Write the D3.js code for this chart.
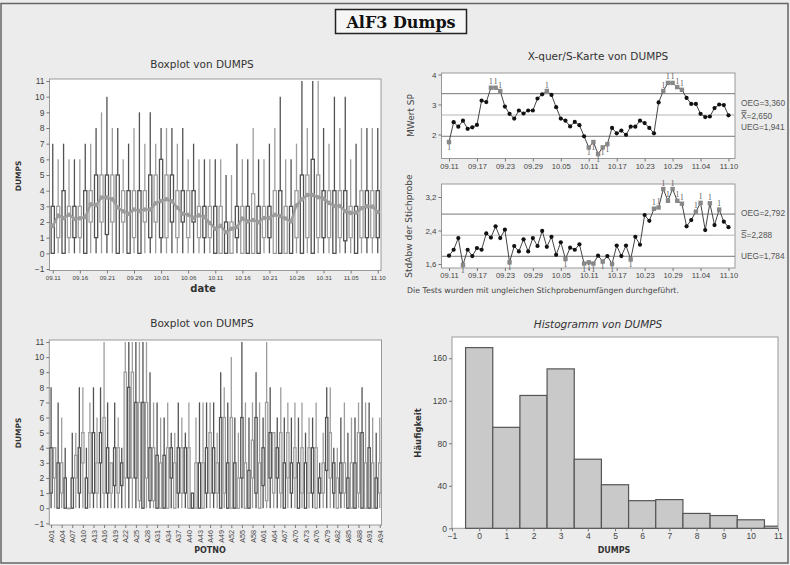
<!DOCTYPE html>
<html>
<head>
<meta charset="utf-8">
<script src="https://cdn.jsdelivr.net/npm/d3@7/dist/d3.min.js"></script>
<style>
  body { margin: 0; background: #ececec; }
  svg { display: block; font-family: "DejaVu Sans", Verdana, sans-serif; }
</style>
</head>
<body>
<div id="chart"></div>
<script>
// ---------- data ----------
// tick labels
const dateTicks = ["09.11","09.16","09.21","09.26","10.01","10.06","10.11","10.16","10.21","10.26","10.31","11.05","11.10"];
const chartTicks = ["09.11","09.17","09.23","09.29","10.05","10.11","10.17","10.23","10.29","11.04","11.10"];
const potTicks = ["A01","A04","A07","A10","A13","A16","A19","A22","A25","A28","A31","A34","A37","A40","A43","A46",
                  "A49","A52","A55","A58","A61","A64","A67","A70","A73","A76","A79","A82","A85","A88","A91","A94"];
const dumpTicks = [-1,0,1,2,3,4,5,6,7,8,9,10,11];

// boxplot by date (61 days, 09.11 .. 11.10)
const DUMPS_MIN = 0;   // every lower whisker ends at 0 dumps
const dayQ1 = [0,1,0,1,1,1,0,2,1,2,1.2,2,0,2,0,1,0,2,1,2,1,1,2,1,2,1,2,1,1,1,
               0,0,0,0,1,0,0,0,0,1,1,0,0,0,0,1,0,1,0,1,1,1,0,1,0.8,1,0,1,1,1,1];
const dayQ3 = [3,3,4,3,3,3,4,4,5,5,5,5,5,4,4,4,4,4,5,5,6,5,5,4,4,4,4,3,3,3,
               3,3,2,2,3,3,3,3.8,3,3,3,4,4,3,3,4,5,5,6,5,4,4,4,4,4,3,3,4,4,4,4];
const dayHi = [7,6,7,6,6,6,7,7,8,9,10,8,8,6,7,8,9,7,9,7,8,8,8,7,8,6,7,6,6,6,
               6,6,5,5,7,6,6,8,6,6,7,8,10,6,6,7,11,8,11,11,8,7,10,8,10,6,7,8,8,8,8];
// sample means (also the X-bar chart)
const dayMean = [1.75,2.41,2.26,2.46,2.19,2.24,2.32,3.13,3.08,3.56,3.56,3.45,2.93,2.69,2.53,2.80,2.70,2.80,2.80,3.20,
                 3.34,3.45,3.32,2.91,2.53,2.46,2.27,2.42,2.31,1.94,1.57,1.75,1.35,1.57,1.68,2.22,2.04,2.13,1.99,2.26,
                 2.26,2.46,2.38,2.22,2.04,3.07,3.45,3.72,3.72,3.58,3.49,3.22,3.02,3.02,2.69,2.58,2.60,2.88,3.00,2.98,2.64];
// sample standard deviations (S chart)
const daySd = [1.80,1.94,2.22,1.58,1.94,1.79,1.98,1.94,2.33,2.23,2.50,2.22,2.42,1.64,2.03,1.90,2.19,1.90,2.22,2.03,
               2.39,2.01,2.25,1.82,2.12,1.72,1.99,1.94,2.07,1.61,1.64,1.61,1.80,1.66,1.79,1.60,2.04,1.79,2.04,1.71,
               2.25,2.06,2.77,2.63,2.92,2.95,3.39,3.11,3.39,3.11,3.04,2.50,2.65,2.85,3.06,2.41,3.05,2.53,2.90,2.61,2.48];
// flagged samples (test 1)
const xbarFlagHigh = [9,10,11,21,46,47,48,49,50];
const xbarFlagLow = [0,30,31,32,33,34];
const sdFlagHigh = [44,45,46,47,48,49,50,53,54,56,58];
const sdFlagLow = [3,13,25,29,30,31,33,35,39];
// control limits
const xbarLimits = {ucl: 3.360, center: 2.650, lcl: 1.941};
const sdLimits = {ucl: 2.792, center: 2.288, lcl: 1.784};

// boxplot by pot (A01 .. A94)
const potQ1 = [1,2,0,1,0,0,0,2,1,3, 0,1,1,1,3,1,1,1,1.5,1, 1.5,2,2,2,2,0.5,0,2,0.5,0.5, 0,0,0,0,2,0,1,1,1,0,
               0,0,0,0,1,1,1,1,0,1, 0,0,0,0,2,0,0,2,1,0, 1.5,0.5,2,1,2,1,0,2,1,2, 0,1,0,1,1,0,1,1,2.5,2,
               1,0,1,1,0,0,0,1,0,0, 0,0,0,1];
const potQ3 = [4,4,3,3,2,0,2,3.5,4,5, 2,5,5,3,5,6,4,3,4,4, 3,9,8,9,7,7,7,7,4,4, 3.5,3,3.5,4,4,3,4,4,4,4,
               1,3,3,3,4,5,4,3,6,6, 3,6,3,2,6,3,2.5,4.5,6,3, 4,7,5,5,4,5,3,5,3,4, 3,4,3,4,4,4,2,3,6,5,
               3,2,3,3,2,3,3,5,5,3, 4,3,2,3];
const potHi = [8,4,7,6,4,0,5,5,8,8, 4,7,8,6,8,11,7,3,7,6, 4,11,11,11,11,11,11,11,9,7, 7,6,6,7,5,5,7,6,5,7,
               1,6,7,7,7,7,7,5,9,8, 7,10,6,5,11,7,6,7,9,7, 6,11,8,5,6,8,6,7,6,7, 6,7,5,6,6,7,3,5,8,8,
               4,4,6,7,5,6,6,7,8,7, 7,6,5,6];

// histogram
const histBins = [0,1,2,3,4,5,6,7,8,9,10,11];
const histCounts = [170,95,125,150,65,41,26,27,14,12,8,2];
const histTicks = [0,40,80,120,160];

// ---------- drawing ----------
const width = 790, height = 565;
const DARK = "#525252", LIGHT = "#9e9e9e";
const AXIS_FONT = "'Liberation Sans', Arial, sans-serif";

const svg = d3.select("#chart").append("svg")
    .attr("width", width).attr("height", height);

svg.append("rect").attr("width", width).attr("height", height).attr("fill", "#ececec");
svg.append("rect").attr("x", 1).attr("y", 3.5).attr("width", 787).attr("height", 559.5)
    .attr("fill", "none").attr("stroke", "#666").attr("stroke-width", 1.5);

// title box
svg.append("rect").attr("x", 335.5).attr("y", 9.5).attr("width", 131).attr("height", 24)
    .attr("fill", "#f6f6f6").attr("stroke", "#222").attr("stroke-width", 1.5);
svg.append("text").attr("x", 401).attr("y", 28).attr("text-anchor", "middle")
    .style("font-family", "'DejaVu Serif', serif").style("font-weight", "bold").style("font-size", "16px")
    .attr("fill", "#111").text("AlF3 Dumps");

function label(x, y, txt, size, opts = {}) {
    const t = svg.append("text").attr("x", x).attr("y", y)
        .attr("text-anchor", opts.anchor || "middle")
        .attr("fill", opts.fill || "#333")
        .style("font-size", size + "px")
        .text(txt);
    if (opts.font) t.style("font-family", opts.font);
    if (opts.bold) t.style("font-weight", "bold");
    if (opts.italic) t.style("font-style", "italic");
    if (opts.rotate) t.attr("transform", "rotate(-90," + x + "," + y + ")");
    return t;
}

function styleAxis(g, size) {
    g.attr("font-family", AXIS_FONT);
    g.select(".domain").remove();
    g.selectAll(".tick line").attr("stroke", "#777");
    g.selectAll(".tick text").attr("fill", "#444").style("font-size", size + "px");
}

function frame(x, y, top, bottom) {
    const [x0, x1] = x.range();
    return svg.append("rect").attr("x", x0).attr("y", top)
        .attr("width", x1 - x0).attr("height", bottom - top)
        .attr("fill", "#fff").attr("stroke", "#999").attr("stroke-width", 1);
}

function drawBoxes(data, x, y, bw, sw) {
    const g = svg.append("g");
    g.selectAll(".whisker").data(data).enter().append("line")
        .attr("x1", d => x(d.i)).attr("x2", d => x(d.i))
        .attr("y1", d => y(d.lo)).attr("y2", d => y(d.hi))
        .attr("stroke", d => d.i % 2 ? LIGHT : DARK).attr("stroke-width", sw);
    g.selectAll(".box").data(data).enter().append("rect")
        .attr("x", d => x(d.i) - bw / 2).attr("width", bw)
        .attr("y", d => y(d.q3)).attr("height", d => Math.max(0.6, y(d.q1) - y(d.q3)))
        .attr("fill", "#fff").attr("stroke", d => d.i % 2 ? LIGHT : DARK).attr("stroke-width", sw);
    return g;
}

// ===== Panel A: boxplot by date =====
const xA = d3.scaleLinear().domain([-0.6, 60.6]).range([49.5, 381]);
const yA = d3.scaleLinear().domain([-1, 11]).range([269, 81]);
frame(xA, yA, 79, 270.5);

const dayData = dayQ1.map((q1, i) => ({i: i, lo: DUMPS_MIN, q1: q1, q3: dayQ3[i], hi: dayHi[i], mean: dayMean[i]}));
drawBoxes(dayData, xA, yA, 3.2, 1.3);

svg.append("path").datum(dayData)
    .attr("fill", "none").attr("stroke", "#9c9c9c").attr("stroke-width", 2.4)
    .attr("d", d3.line().x(d => xA(d.i)).y(d => yA(d.mean)));
svg.append("g").selectAll("circle").data(dayData).enter().append("circle")
    .attr("cx", d => xA(d.i)).attr("cy", d => yA(d.mean)).attr("r", 2.3).attr("fill", "#9c9c9c");

svg.append("g").attr("transform", "translate(49.5,0)")
    .call(d3.axisLeft(yA).tickValues(dumpTicks).tickSize(3).tickPadding(2))
    .call(g => styleAxis(g, 8.5));
svg.append("g").attr("transform", "translate(0,270.5)")
    .call(d3.axisBottom(xA).tickValues(d3.range(0, 61, 5)).tickFormat((d, i) => dateTicks[i]).tickSize(3).tickPadding(2))
    .call(g => styleAxis(g, 6.2));

label(202, 68, "Boxplot von DUMPS", 10.5);
label(21, 176, "DUMPS", 7.5, {bold: true, rotate: true});
label(203, 292, "date", 10, {bold: true});

// ===== Panel B: X-bar / S chart =====
const xB = d3.scaleLinear().domain([0, 60]).range([449, 728.5]);
const xBframe = d3.scaleLinear().domain([0, 1]).range([441.5, 735]);
const yX = d3.scaleLinear().domain([2, 4]).range([134.5, 74.5]);
const yS = d3.scaleLinear().domain([1.6, 3.2]).range([264, 197]);

function controlChart(values, y, top, bottom, limits, flagHigh, flagLow, yTicks, fmt) {
    frame(xBframe, y, top, bottom);
    const g = svg.append("g");
    [["ucl", "#777"], ["center", "#b5b5b5"], ["lcl", "#777"]].forEach(([k, c]) => {
        g.append("line").attr("x1", 441.5).attr("x2", 735)
            .attr("y1", y(limits[k])).attr("y2", y(limits[k]))
            .attr("stroke", c).attr("stroke-width", 1);
    });
    const pts = values.map((v, i) => ({i: i, v: v,
        flag: flagHigh.includes(i) ? "high" : (flagLow.includes(i) ? "low" : null)}));
    g.append("path").datum(pts).attr("fill", "none").attr("stroke", "#444").attr("stroke-width", 1)
        .attr("d", d3.line().x(d => xB(d.i)).y(d => y(d.v)));
    g.selectAll("circle").data(pts.filter(d => !d.flag)).enter().append("circle")
        .attr("cx", d => xB(d.i)).attr("cy", d => y(d.v)).attr("r", 2.1).attr("fill", "#111");
    const fl = pts.filter(d => d.flag);
    g.selectAll("rect.flag").data(fl).enter().append("rect").attr("class", "flag")
        .attr("x", d => xB(d.i) - 2.2).attr("y", d => y(d.v) - 2.2).attr("width", 4.4).attr("height", 4.4)
        .attr("fill", "#888");
    g.selectAll("text.flag").data(fl).enter().append("text").attr("class", "flag")
        .attr("x", d => xB(d.i)).attr("y", d => d.flag === "high" ? y(d.v) - 3.5 : y(d.v) + 8)
        .attr("text-anchor", "middle").attr("fill", "#555")
        .style("font-family", "'Liberation Serif', serif").style("font-size", "7.5px").text("1");

    svg.append("g").attr("transform", "translate(441.5,0)")
        .call(d3.axisLeft(y).tickValues(yTicks).tickFormat(fmt).tickSize(3).tickPadding(2))
        .call(a => styleAxis(a, 8));
    svg.append("g").attr("transform", "translate(0," + bottom + ")")
        .call(d3.axisBottom(xB).tickValues(d3.range(0, 61, 6)).tickFormat((d, i) => chartTicks[i]).tickSize(3).tickPadding(2))
        .call(a => styleAxis(a, 7.6));
}

const deComma = d => String(d).replace(".", ",");
controlChart(dayMean, yX, 73, 158.5, xbarLimits, xbarFlagHigh, xbarFlagLow, [2, 3, 4], d3.format("d"));
controlChart(daySd, yS, 184, 268, sdLimits, sdFlagHigh, sdFlagLow, [1.6, 2.4, 3.2], d => deComma(d.toFixed(1)));

label(598, 60, "X-quer/S-Karte von DUMPS", 10.5);
label(414, 115.5, "MWert SP", 9, {rotate: true, fill: "#444"});
label(412, 226, "StdAbw der Stichprobe", 9, {rotate: true, fill: "#444"});

const rl = {anchor: "start", fill: "#555", font: AXIS_FONT};
label(741, 106, "OEG=" + deComma(xbarLimits.ucl.toFixed(3)), 8.3, rl);
label(741, 119, "X=" + deComma(xbarLimits.center.toFixed(3)), 8.3, rl);
label(741, 129.5, "UEG=" + deComma(xbarLimits.lcl.toFixed(3)), 8.3, rl);
label(741, 216, "OEG=" + deComma(sdLimits.ucl.toFixed(3)), 8.3, rl);
label(741, 238, "S=" + deComma(sdLimits.center.toFixed(3)), 8.3, rl);
label(741, 259, "UEG=" + deComma(sdLimits.lcl.toFixed(3)), 8.3, rl);
// bars over X (double) and S (single)
[110.6, 112.4].forEach(yy => svg.append("line").attr("x1", 741.5).attr("x2", 746.5)
    .attr("y1", yy).attr("y2", yy).attr("stroke", "#555").attr("stroke-width", 0.8));
svg.append("line").attr("x1", 741.5).attr("x2", 746.5).attr("y1", 230.5).attr("y2", 230.5)
    .attr("stroke", "#555").attr("stroke-width", 0.8);

label(407, 293, "Die Tests wurden mit ungleichen Stichprobenumfängen durchgeführt.", 7.8, {anchor: "start", fill: "#444"});

// ===== Panel C: boxplot by pot =====
const xC = d3.scaleLinear().domain([-0.5, 93.5]).range([49.3, 381.5]);
const yC = d3.scaleLinear().domain([-1, 11]).range([523.3, 342]);
frame(xC, yC, 340, 525);
const potData = potQ1.map((q1, i) => ({i: i, lo: DUMPS_MIN, q1: q1, q3: potQ3[i], hi: potHi[i]}));
drawBoxes(potData, xC, yC, 2.3, 1.3);

svg.append("g").attr("transform", "translate(49.3,0)")
    .call(d3.axisLeft(yC).tickValues(dumpTicks).tickSize(3).tickPadding(2))
    .call(g => styleAxis(g, 8.5));
svg.append("g").attr("transform", "translate(0,525)")
    .call(d3.axisBottom(xC).tickValues(d3.range(0, 94, 3)).tickFormat((d, i) => potTicks[i]).tickSize(3).tickPadding(2))
    .call(g => {
        styleAxis(g, 7.2);
        g.selectAll(".tick text").attr("transform", "rotate(-90)")
            .attr("text-anchor", "end").attr("x", -5).attr("y", 0).attr("dy", "0.35em");
    });

label(202, 327, "Boxplot von DUMPS", 10.5);
label(21, 433, "DUMPS", 7.5, {bold: true, rotate: true});
label(210, 553, "POTNO", 8, {bold: true});

// ===== Panel D: histogram =====
const xD = d3.scaleLinear().domain([-1, 11]).range([452, 778]);
const yD = d3.scaleLinear().domain([0, 180]).range([528.3, 337]);
frame(xD, yD, 337, 528.3);
svg.append("clipPath").attr("id", "clipD").append("rect")
    .attr("x", 452).attr("y", 330).attr("width", 326).attr("height", 200);
svg.append("g").attr("clip-path", "url(#clipD)")
    .selectAll("rect").data(histBins).enter().append("rect")
    .attr("x", (d) => xD(d - 0.5)).attr("width", xD(1) - xD(0))
    .attr("y", (d, i) => yD(histCounts[i])).attr("height", (d, i) => yD(0) - yD(histCounts[i]))
    .attr("fill", "#c9c9c9").attr("stroke", "#555").attr("stroke-width", 1.2);

svg.append("g").attr("transform", "translate(452,0)")
    .call(d3.axisLeft(yD).tickValues(histTicks).tickSize(3).tickPadding(2))
    .call(g => styleAxis(g, 8.5));
svg.append("g").attr("transform", "translate(0,528.3)")
    .call(d3.axisBottom(xD).tickValues(dumpTicks).tickSize(3).tickPadding(2))
    .call(g => styleAxis(g, 8.5));

label(598, 328, "Histogramm von DUMPS", 10.5, {italic: true});
label(421, 433, "Häufigkeit", 8.5, {bold: true, rotate: true});
label(614, 553, "DUMPS", 8, {bold: true});
</script>
</body>
</html>
